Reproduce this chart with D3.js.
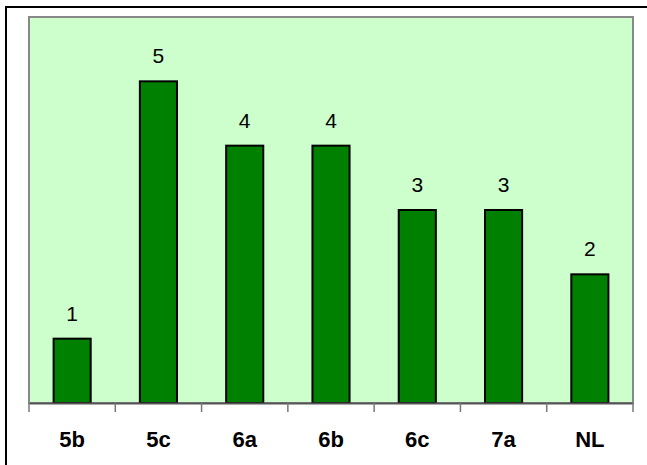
<!DOCTYPE html>
<html>
<head>
<meta charset="utf-8">
<script src="https://cdn.jsdelivr.net/npm/d3@7"></script>
<style>
  body { margin: 0; background: #fff; }
  svg { display: block; font-family: Arial, "Liberation Sans", sans-serif; }
</style>
</head>
<body>
<div id="container"></div>
<script>
/* DATA */
const grades = ["5b", "5c", "6a", "6b", "6c", "7a", "NL"];
const counts = [1, 5, 4, 4, 3, 3, 2];
const yMax = 6;

const width = 647,
  height = 465,
  plot = { left: 29, right: 633, top: 17, bottom: 403 };

const svg = d3.select("#container").append("svg")
  .attr("width", width)
  .attr("height", height);

// outer frame (only top and left edges show in the picture)
svg.append("path")
  .attr("d", `M6,${height} L6,7 L${width},7`)
  .attr("fill", "none")
  .attr("stroke", "#000")
  .attr("stroke-width", 2);

/* SCALES */
const xScale = d3.scaleBand()
  .domain(grades)
  .range([plot.left, plot.right])
  .paddingInner(0.57)
  .paddingOuter(0.285);

const xBand = d3.scaleBand()
  .domain(grades)
  .range([plot.left, plot.right]);

const yScale = d3.scaleLinear()
  .domain([0, yMax])
  .range([plot.bottom, plot.top]);

// plot area
svg.append("rect")
  .attr("x", plot.left)
  .attr("y", plot.top)
  .attr("width", plot.right - plot.left)
  .attr("height", plot.bottom - plot.top)
  .attr("fill", "#ccffcc")
  .attr("stroke", "#888")
  .attr("stroke-width", 2);

// bars
svg.selectAll(".bar")
  .data(counts)
  .join("rect")
  .attr("class", "bar")
  .attr("x", (d, i) => xScale(grades[i]))
  .attr("y", d => yScale(d))
  .attr("width", xScale.bandwidth())
  .attr("height", d => yScale(0) - yScale(d))
  .attr("fill", "#008000")
  .attr("stroke", "#000")
  .attr("stroke-width", 2);

// value labels
svg.selectAll(".val")
  .data(counts)
  .join("text")
  .attr("class", "val")
  .attr("x", (d, i) => xScale(grades[i]) + xScale.bandwidth() / 2)
  .attr("y", d => yScale(d) - 18)
  .attr("text-anchor", "middle")
  .style("font-size", "21px")
  .text(d => d);

// x axis
const xAxis = d3.axisBottom(xBand).tickSize(0).tickPadding(28);
const gx = svg.append("g")
  .attr("transform", `translate(0,${plot.bottom})`)
  .call(xAxis);
gx.select(".domain").attr("stroke", "#555").attr("stroke-width", 2);
gx.selectAll(".tick text")
  .attr("fill", "#000")
  .style("font-size", "22px")
  .style("font-weight", "bold")
  .style("font-family", "Arial, 'Liberation Sans', sans-serif");

// ticks on band edges
const edges = grades.map(g => xBand(g)).concat([plot.right]);
svg.selectAll(".edge")
  .data(edges)
  .join("line")
  .attr("class", "edge")
  .attr("x1", d => d)
  .attr("x2", d => d)
  .attr("y1", plot.bottom)
  .attr("y2", plot.bottom + 9)
  .attr("stroke", "#777")
  .attr("stroke-width", 1.5);
</script>
</body>
</html>
